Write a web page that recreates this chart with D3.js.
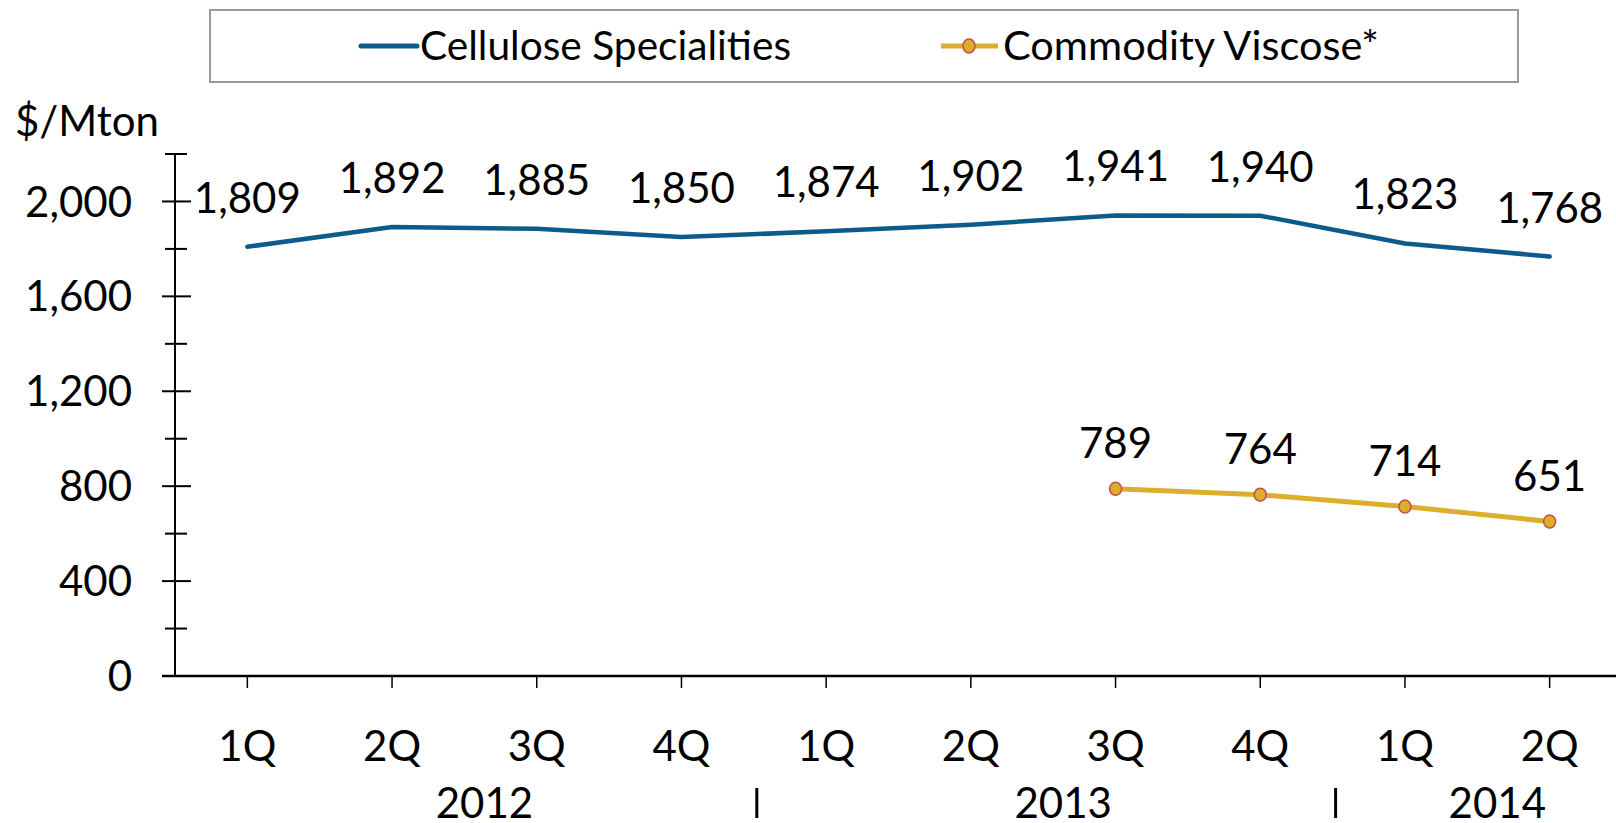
<!DOCTYPE html>
<html>
<head>
<meta charset="utf-8">
<script src="https://cdn.jsdelivr.net/npm/d3@7"></script>
<style>
  html, body { margin: 0; padding: 0; background: #ffffff; overflow: hidden; }
  svg { display: block; font-family: Lato, "Open Sans", sans-serif; }
</style>
</head>
<body>
<svg width="1616" height="823"></svg>
<script>
// chart data
const quarters = ["1Q", "2Q", "3Q", "4Q", "1Q", "2Q", "3Q", "4Q", "1Q", "2Q"];
const cellulose = [1809, 1892, 1885, 1850, 1874, 1902, 1941, 1940, 1823, 1768];
const viscose = [null, null, null, null, null, null, 789, 764, 714, 651];
const years = ["2012", "2013", "2014"];
const yearStart = [0, 4, 8];   // first quarter index of each year
const yearEnd = [4, 8, 10];
const yTicks = [0, 400, 800, 1200, 1600, 2000];
const yMinorTicks = [200, 600, 1000, 1400, 1800, 2200];
const seriesNames = ["Cellulose Specialities", "Commodity Viscose*"];

const blue = "#0d5a8c";
const gold = "#dcae2c";
const markerStroke = "#c0504d";
const fontSize = 42;

let width = 1616, height = 823;
let svg = d3.select("svg");

// plot area
const plotLeft = 175, plotBottom = 676, plotTop = 154;
const bandW = 144.7;

let x = d3.scaleBand()
    .domain(d3.range(quarters.length))
    .range([plotLeft, plotLeft + bandW * quarters.length])
    .padding(0);
let xc = i => x(i) + x.bandwidth() / 2;

let y = d3.scaleLinear()
    .domain([0, 2200])
    .range([plotBottom, plotTop]);

// y axis line + ticks
let axisG = svg.append("g");
axisG.append("line")
    .attr("x1", plotLeft).attr("x2", plotLeft)
    .attr("y1", y(2200)).attr("y2", y(0))
    .attr("stroke", "#000").attr("stroke-width", 2);

axisG.selectAll(".major")
    .data(yTicks)
    .enter().append("line")
    .attr("x1", plotLeft - 13).attr("x2", plotLeft + 16)
    .attr("y1", d => y(d)).attr("y2", d => y(d))
    .attr("stroke", "#000").attr("stroke-width", 2);

axisG.selectAll(".minor")
    .data(yMinorTicks)
    .enter().append("line")
    .attr("x1", plotLeft - 10).attr("x2", plotLeft + 12)
    .attr("y1", d => y(d)).attr("y2", d => y(d))
    .attr("stroke", "#000").attr("stroke-width", 2);

axisG.selectAll(".ylab")
    .data(yTicks)
    .enter().append("text")
    .attr("x", 132)
    .attr("y", d => y(d))
    .attr("dy", "0.36em")
    .attr("text-anchor", "end")
    .attr("font-size", fontSize)
    .attr("fill", "#000")
    .text(d => d3.format(",")(d));

svg.append("text")
    .attr("x", 15).attr("y", 136)
    .attr("font-size", fontSize)
    .attr("fill", "#000")
    .text("$/Mton");

// x axis line + ticks
axisG.append("line")
    .attr("x1", plotLeft - 13).attr("x2", width)
    .attr("y1", plotBottom).attr("y2", plotBottom)
    .attr("stroke", "#000").attr("stroke-width", 2.5);

axisG.selectAll(".xtick")
    .data(quarters)
    .enter().append("line")
    .attr("x1", (d, i) => xc(i)).attr("x2", (d, i) => xc(i))
    .attr("y1", plotBottom).attr("y2", plotBottom + 12)
    .attr("stroke", "#000").attr("stroke-width", 1.5);

axisG.selectAll(".qlab")
    .data(quarters)
    .enter().append("text")
    .attr("x", (d, i) => xc(i))
    .attr("y", 761)
    .attr("text-anchor", "middle")
    .attr("font-size", fontSize)
    .attr("fill", "#000")
    .text(d => d);

// year labels and separators
axisG.selectAll(".year")
    .data(years)
    .enter().append("text")
    .attr("x", (d, i) => (x(yearStart[i]) + x(yearEnd[i] - 1) + x.bandwidth()) / 2 + 20)
    .attr("y", 818)
    .attr("text-anchor", "middle")
    .attr("font-size", fontSize)
    .attr("fill", "#000")
    .text(d => d);

axisG.selectAll(".sep")
    .data(yearStart.slice(1))
    .enter().append("line")
    .attr("x1", d => x(d) + 3).attr("x2", d => x(d) + 3)
    .attr("y1", 788).attr("y2", 818)
    .attr("stroke", "#000").attr("stroke-width", 3);

// lines
let line = d3.line()
    .defined(d => d != null)
    .x((d, i) => xc(i))
    .y(d => y(d));

svg.append("path")
    .datum(cellulose)
    .attr("d", line)
    .attr("fill", "none")
    .attr("stroke", blue)
    .attr("stroke-width", 4.5)
    .attr("stroke-linejoin", "round")
    .attr("stroke-linecap", "round");

svg.append("path")
    .datum(viscose)
    .attr("d", line)
    .attr("fill", "none")
    .attr("stroke", gold)
    .attr("stroke-width", 5)
    .attr("stroke-linejoin", "round");

let vPoints = viscose.map((v, i) => ({ v: v, i: i })).filter(d => d.v != null);

svg.selectAll(".marker")
    .data(vPoints)
    .enter().append("ellipse")
    .attr("cx", d => xc(d.i))
    .attr("cy", d => y(d.v))
    .attr("rx", 6).attr("ry", 6.5)
    .attr("fill", gold)
    .attr("stroke", markerStroke)
    .attr("stroke-width", 1.5);

// data labels
svg.selectAll(".clab")
    .data(cellulose)
    .enter().append("text")
    .attr("x", (d, i) => xc(i))
    .attr("y", d => y(d) - 34)
    .attr("text-anchor", "middle")
    .attr("font-size", fontSize)
    .attr("fill", "#000")
    .text(d => d3.format(",")(d));

svg.selectAll(".vlab")
    .data(vPoints)
    .enter().append("text")
    .attr("x", d => xc(d.i))
    .attr("y", d => y(d.v) - 31)
    .attr("text-anchor", "middle")
    .attr("font-size", fontSize)
    .attr("fill", "#000")
    .text(d => d3.format(",")(d.v));

// legend
let legend = svg.append("g");
legend.append("rect")
    .attr("x", 210).attr("y", 10)
    .attr("width", 1308).attr("height", 72)
    .attr("fill", "#fff")
    .attr("stroke", "#9a9a9a")
    .attr("stroke-width", 2);

legend.append("line")
    .attr("x1", 361).attr("x2", 417)
    .attr("y1", 46).attr("y2", 46)
    .attr("stroke", blue).attr("stroke-width", 5)
    .attr("stroke-linecap", "round");

legend.append("text")
    .attr("x", 420).attr("y", 46)
    .attr("dy", "0.36em")
    .attr("font-size", 40)
    .attr("textLength", 371)
    .attr("lengthAdjust", "spacingAndGlyphs")
    .text(seriesNames[0]);

legend.append("line")
    .attr("x1", 941).attr("x2", 998)
    .attr("y1", 46).attr("y2", 46)
    .attr("stroke", gold).attr("stroke-width", 5);

legend.append("ellipse")
    .attr("cx", 969).attr("cy", 46)
    .attr("rx", 6).attr("ry", 7)
    .attr("fill", gold)
    .attr("stroke", markerStroke)
    .attr("stroke-width", 1.5);

legend.append("text")
    .attr("x", 1003).attr("y", 46)
    .attr("dy", "0.36em")
    .attr("font-size", 40)
    .attr("textLength", 376)
    .attr("lengthAdjust", "spacingAndGlyphs")
    .text(seriesNames[1]);
</script>
</body>
</html>
